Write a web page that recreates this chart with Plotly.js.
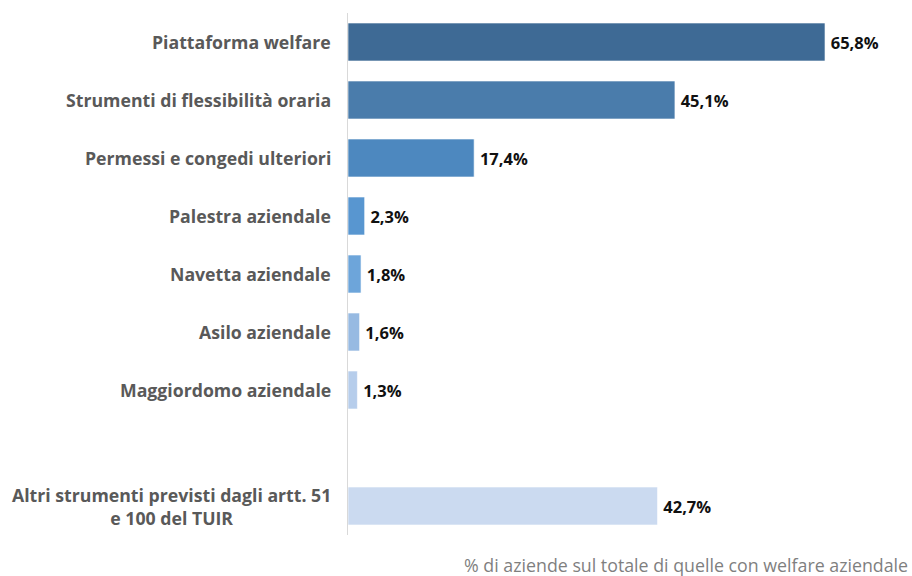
<!DOCTYPE html>
<html>
<head>
<meta charset="utf-8">
<script src="https://cdn.plot.ly/plotly-3.0.1.min.js"></script>
<style>html,body{margin:0;padding:0;background:#fff;}#chart{width:912px;height:576px;}</style>
</head>
<body>
<div id="chart"></div>
<script>
const categories = [
  "Piattaforma welfare",
  "Strumenti di flessibilità oraria",
  "Permessi e congedi ulteriori",
  "Palestra aziendale",
  "Navetta aziendale",
  "Asilo aziendale",
  "Maggiordomo aziendale",
  " ",
  "Altri strumenti previsti dagli artt. 51<br>e 100 del TUIR"
];
const values = [65.8, 45.1, 17.4, 2.3, 1.8, 1.6, 1.3, null, 42.7];
const barColors = ["#3e6a95", "#4a7cab", "#4d88bf", "#5896d0", "#6da5da", "#97bae2", "#b6cdeb", "#ffffff", "#cbdaf0"];
const axisTitle = "% di aziende sul totale di quelle con welfare aziendale";

const FONT = "'Open Sans', 'Noto Sans', sans-serif";

const trace = {
  type: "bar",
  orientation: "h",
  y: categories,
  x: values,
  marker: {color: barColors, line: {color: "rgba(255,255,255,0.6)", width: 1}},
  text: values.map(v => v === null ? "" : "\u2009" + v.toFixed(1).replace(".", ",") + "%"),
  textposition: "outside",
  textfont: {family: FONT, size: 16.5, color: "#111111", weight: "bold"},
  cliponaxis: false,
  hoverinfo: "skip"
};

const labelAnnotations = categories.map(c => ({
  xref: "paper", yref: "y", x: 0, y: c,
  xanchor: "right", yanchor: "middle", xshift: -15,
  text: c.trim() === "" ? "" : "<b>" + c + "</b>",
  showarrow: false, align: "center",
  font: {family: FONT, size: 17.7, color: "#595959"}
}));

labelAnnotations.push({
  xref: "paper", yref: "paper", x: 1, y: 0, yshift: -30, xshift: -2,
  xanchor: "right", yanchor: "middle",
  text: axisTitle, showarrow: false,
  font: {family: FONT, size: 17.8, color: "#7f7f7f"}
});

const layout = {
  width: 912, height: 576,
  margin: {l: 348, r: 0, t: 13, b: 41},
  paper_bgcolor: "#fff", plot_bgcolor: "#fff",
  bargap: 0.345,
  showlegend: false,
  xaxis: {range: [0, 77.8], showgrid: false, zeroline: false, showticklabels: false, showline: false, fixedrange: true},
  yaxis: {type: "category", categoryorder: "array", categoryarray: categories, autorange: "reversed",
          showticklabels: false, showline: true, linecolor: "#d9d9d9", linewidth: 1, ticks: "", showgrid: false},
  annotations: labelAnnotations,
  separators: ",."
};

Plotly.newPlot("chart", [trace], layout, {displayModeBar: false, staticPlot: true});
</script>
</body>
</html>
